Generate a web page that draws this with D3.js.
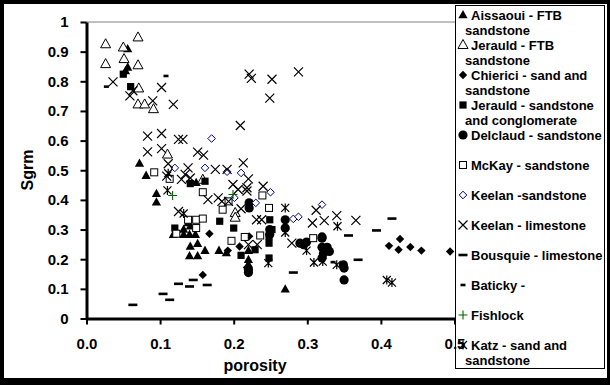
<!DOCTYPE html>
<html><head><meta charset="utf-8">
<script src="https://cdn.jsdelivr.net/npm/d3@7"></script>
<style>body{margin:0;background:#fff}svg{display:block}text{font-family:"Liberation Sans",Arial,sans-serif;font-weight:bold}</style>
</head><body><div id="chart"></div>
<script>
// ---- data (porosity, Sgrm) ----
const xTickValues = [0, 0.1, 0.2, 0.3, 0.4, 0.5];
const yTickValues = [0, 0.1, 0.2, 0.3, 0.4, 0.5, 0.6, 0.7, 0.8, 0.9, 1];
const xTitle = "porosity";
const yTitle = "Sgrm";

const aissaoui = [[0.056,0.909],[0.056,0.847],[0.053,0.835],[0.072,0.523],[0.081,0.482],[0.095,0.421],[0.095,0.392],[0.149,0.458],
 [0.132,0.300],[0.138,0.322],[0.141,0.311],[0.118,0.283],[0.132,0.283],[0.140,0.283],[0.148,0.283],[0.141,0.243],[0.151,0.252],
 [0.140,0.211],[0.151,0.211],[0.161,0.229],[0.180,0.229],[0.190,0.221],[0.220,0.229],[0.220,0.198],[0.220,0.182],[0.270,0.099]];
const jerauldFTB = [[0.026,0.925],[0.050,0.914],[0.070,0.948],[0.026,0.858],[0.051,0.875],[0.070,0.854],[0.071,0.776],[0.070,0.722],
 [0.079,0.722],[0.091,0.706],[0.110,0.553],[0.158,0.468],[0.202,0.356],[0.202,0.340]];
const chierici = [[0.167,0.286],[0.221,0.277],[0.208,0.243],[0.192,0.229],[0.218,0.172],[0.158,0.147],[0.411,0.245],[0.426,0.268],
 [0.424,0.232],[0.440,0.241],[0.455,0.229],[0.494,0.226]];
const jerauldSC = [[0.050,0.824],[0.060,0.782],[0.120,0.305],[0.141,0.455],[0.161,0.463],[0.181,0.328],[0.200,0.305],[0.252,0.300],
 [0.249,0.333],[0.210,0.213],[0.229,0.232],[0.248,0.254],[0.248,0.277],[0.248,0.204]];
const delclaud = [[0.221,0.390],[0.221,0.373],[0.220,0.165],[0.220,0.155],[0.270,0.333],[0.270,0.305],[0.249,0.283],[0.249,0.300],
 [0.290,0.254],[0.295,0.249],[0.299,0.258],[0.320,0.271],[0.320,0.275],[0.320,0.240],[0.327,0.240],[0.330,0.226],[0.322,0.220],
 [0.320,0.204],[0.349,0.181],[0.350,0.170],[0.350,0.130]];
const mckay = [[0.092,0.493],[0.113,0.471],[0.122,0.286],[0.158,0.426],[0.138,0.333],[0.149,0.333],[0.158,0.337],[0.149,0.305],
 [0.193,0.395],[0.185,0.367],[0.239,0.415],[0.248,0.373],[0.197,0.262],[0.215,0.275],[0.236,0.280],[0.308,0.271]];
const keelanS = [[0.120,0.508],[0.170,0.607],[0.161,0.508],[0.191,0.495],[0.210,0.491],[0.201,0.407],[0.230,0.390],[0.250,0.426],
 [0.281,0.336],[0.288,0.343],[0.320,0.384]];
const keelanL = [[0.036,0.798],[0.059,0.751],[0.063,0.768],[0.090,0.734],[0.102,0.779],[0.118,0.722],[0.083,0.615],[0.102,0.624],
 [0.083,0.562],[0.102,0.573],[0.125,0.604],[0.111,0.522],[0.109,0.480],[0.125,0.361],[0.131,0.604],[0.151,0.561],[0.159,0.551],
 [0.213,0.525],[0.209,0.651],[0.221,0.824],[0.224,0.810],[0.252,0.807],[0.249,0.743],[0.288,0.832],[0.138,0.508],[0.175,0.503],
 [0.191,0.503],[0.220,0.471],[0.134,0.486],[0.141,0.474],[0.129,0.469],[0.199,0.452],[0.206,0.435],[0.218,0.441],[0.218,0.430],
 [0.240,0.446],[0.165,0.401],[0.179,0.407],[0.184,0.395],[0.193,0.395],[0.210,0.370],[0.231,0.333],[0.238,0.333],[0.220,0.249],
 [0.232,0.249],[0.279,0.254],[0.312,0.365],[0.307,0.322],[0.323,0.330],[0.340,0.347],[0.366,0.331]];
const bousquie = [[0.063,0.046],[0.104,0.083],[0.113,0.063],[0.125,0.117],[0.140,0.108],[0.145,0.130],[0.164,0.113],[0.356,0.280],
 [0.394,0.297],[0.415,0.337],[0.369,0.198],[0.281,0.155]];
const baticky = [[0.027,0.782],[0.108,0.818],[0.335,0.190]];
const fishlock = [[0.117,0.415],[0.199,0.418]];
const katz = [[0.132,0.354],[0.270,0.373],[0.247,0.187],[0.270,0.290],[0.299,0.229],[0.341,0.311],[0.408,0.130],[0.415,0.121],
 [0.309,0.189],[0.321,0.192],[0.340,0.181],[0.110,0.432],[0.111,0.490]];

const seriesNames = ["Aissaoui - FTB|sandstone","Jerauld - FTB|sandstone","Chierici - sand and|sandstone",
 "Jerauld - sandstone|and conglomerate","Delclaud - sandstone","McKay - sandstone","Keelan -sandstone","Keelan - limestone",
 "Bousquie - limestone","Baticky -","Fishlock","Katz - sand and|sandstone"];
const seriesData = [aissaoui,jerauldFTB,chierici,jerauldSC,delclaud,mckay,keelanS,keelanL,bousquie,baticky,fishlock,katz];
const seriesMarker = ["triF","triO","diaF","sqF","circF","sqO","diaO","cross","dashL","dashS","plus","star"];

// ---- drawing ----
const W = 610, H = 385;
const svg = d3.select("#chart").append("svg").attr("width", W).attr("height", H);
svg.append("rect").attr("width", W).attr("height", H).attr("fill", "#000");
svg.append("rect").attr("x", 4).attr("y", 4).attr("width", W - 7).attr("height", H - 11).attr("fill", "#fff");

const x = d3.scaleLinear().domain([0, 0.5]).range([86.5, 454.5]);
const y = d3.scaleLinear().domain([0, 1]).range([318.5, 22]);

// plot area border (grey)
svg.append("rect").attr("x", x(0)).attr("y", y(1)).attr("width", x(0.6) - x(0)).attr("height", y(0) - y(1))
  .attr("fill", "none").attr("stroke", "#808080").attr("stroke-width", 1);

function marker(g, type) {
  const blk = "#000";
  switch (type) {
    case "triF": g.append("path").attr("d","M0,-5L4.6,3.3L-4.6,3.3Z").attr("fill",blk); break;
    case "triO": g.append("path").attr("d","M0,-5.5L5,3.5L-5,3.5Z").attr("fill","#fff").attr("stroke",blk).attr("stroke-width",1); break;
    case "diaF": g.append("path").attr("d","M0,-4.2L4.2,0L0,4.2L-4.2,0Z").attr("fill",blk); break;
    case "sqF": g.append("rect").attr("x",-3.6).attr("y",-3.6).attr("width",7.2).attr("height",7.2).attr("fill",blk); break;
    case "circF": g.append("circle").attr("r",4.6).attr("fill",blk); break;
    case "sqO": g.append("rect").attr("x",-3.5).attr("y",-3.5).attr("width",7).attr("height",7).attr("fill","#fff").attr("stroke",blk).attr("stroke-width",1); break;
    case "diaO": g.append("path").attr("d","M0,-3.8L3.8,0L0,3.8L-3.8,0Z").attr("fill","#fff").attr("stroke","#000080").attr("stroke-width",1); break;
    case "cross": g.append("path").attr("d","M-4.5,-4.5L4.5,4.5M-4.5,4.5L4.5,-4.5").attr("stroke",blk).attr("stroke-width",1.2); break;
    case "dashL": g.append("rect").attr("x",-4.5).attr("y",-1.3).attr("width",9).attr("height",2.6).attr("fill",blk); break;
    case "dashS": g.append("rect").attr("x",-2.5).attr("y",-1.3).attr("width",5).attr("height",2.6).attr("fill",blk); break;
    case "plus": g.append("path").attr("d","M-4.5,0L4.5,0M0,-4.5L0,4.5").attr("stroke","#006400").attr("stroke-width",1.1); break;
    case "star": g.append("path").attr("d","M-4,-4L4,4M-4,4L4,-4M0,-4.5L0,4.5").attr("stroke",blk).attr("stroke-width",1.2); break;
  }
}

const plot = svg.append("g");
seriesData.forEach((data, i) => {
  plot.selectAll(null).data(data).enter().append("g")
    .attr("transform", d => `translate(${x(d[0])},${y(d[1])})`)
    .each(function () { marker(d3.select(this), seriesMarker[i]); });
});

function styleAxis(g) {
  g.select(".domain").attr("stroke", "#000").attr("stroke-width", 3);
  g.selectAll(".tick line").attr("stroke", "#000").attr("stroke-width", 2);
  g.selectAll(".tick text").attr("fill", "#000").style("font-size", "15px").style("font-weight", "bold")
    .style("font-family", '"Liberation Sans",Arial,sans-serif');
}

// y axis
const yAxis = d3.axisLeft(y).tickValues(yTickValues).tickSize(6).tickSizeOuter(0).tickPadding(12)
  .tickFormat(d => d === 0 ? "0" : d === 1 ? "1" : d3.format(".1f")(d));
const yg = svg.append("g").attr("transform", `translate(${x(0)},0)`).call(yAxis);
styleAxis(yg);

svg.append("text").attr("x", 255).attr("y", 371).attr("text-anchor", "middle").style("font-size", "16px").text(xTitle);
svg.append("text").attr("transform", "translate(33,170) rotate(-90)").attr("text-anchor", "middle").style("font-size", "16px").text(yTitle);

// legend
const lg = svg.append("g");
lg.append("rect").attr("x", 455.5).attr("y", 5.5).attr("width", 149).attr("height", 363).attr("fill", "#fff").attr("stroke", "#000").attr("stroke-width", 1);
seriesNames.forEach((name, i) => {
  const cy = 15 + i * 30;
  const g = lg.append("g").attr("transform", `translate(463,${cy})`);
  marker(g, seriesMarker[i]);
  const lines = name.split("|");
  lines.forEach((t, j) => {
    lg.append("text").attr("x", j === 0 ? 471 : 465).attr("y", cy + 4.5 + j * 15.5).style("font-size", "13px").text(t);
  });
});

// x axis (its labels sit on top of the legend, as in the original)
const xAxis = d3.axisBottom(x).tickValues(xTickValues).tickSize(6).tickSizeOuter(0).tickPadding(14).tickFormat(d3.format(".1f"));
const xg = svg.append("g").attr("transform", `translate(0,${y(0)})`).call(xAxis);
styleAxis(xg);
</script></body></html>
